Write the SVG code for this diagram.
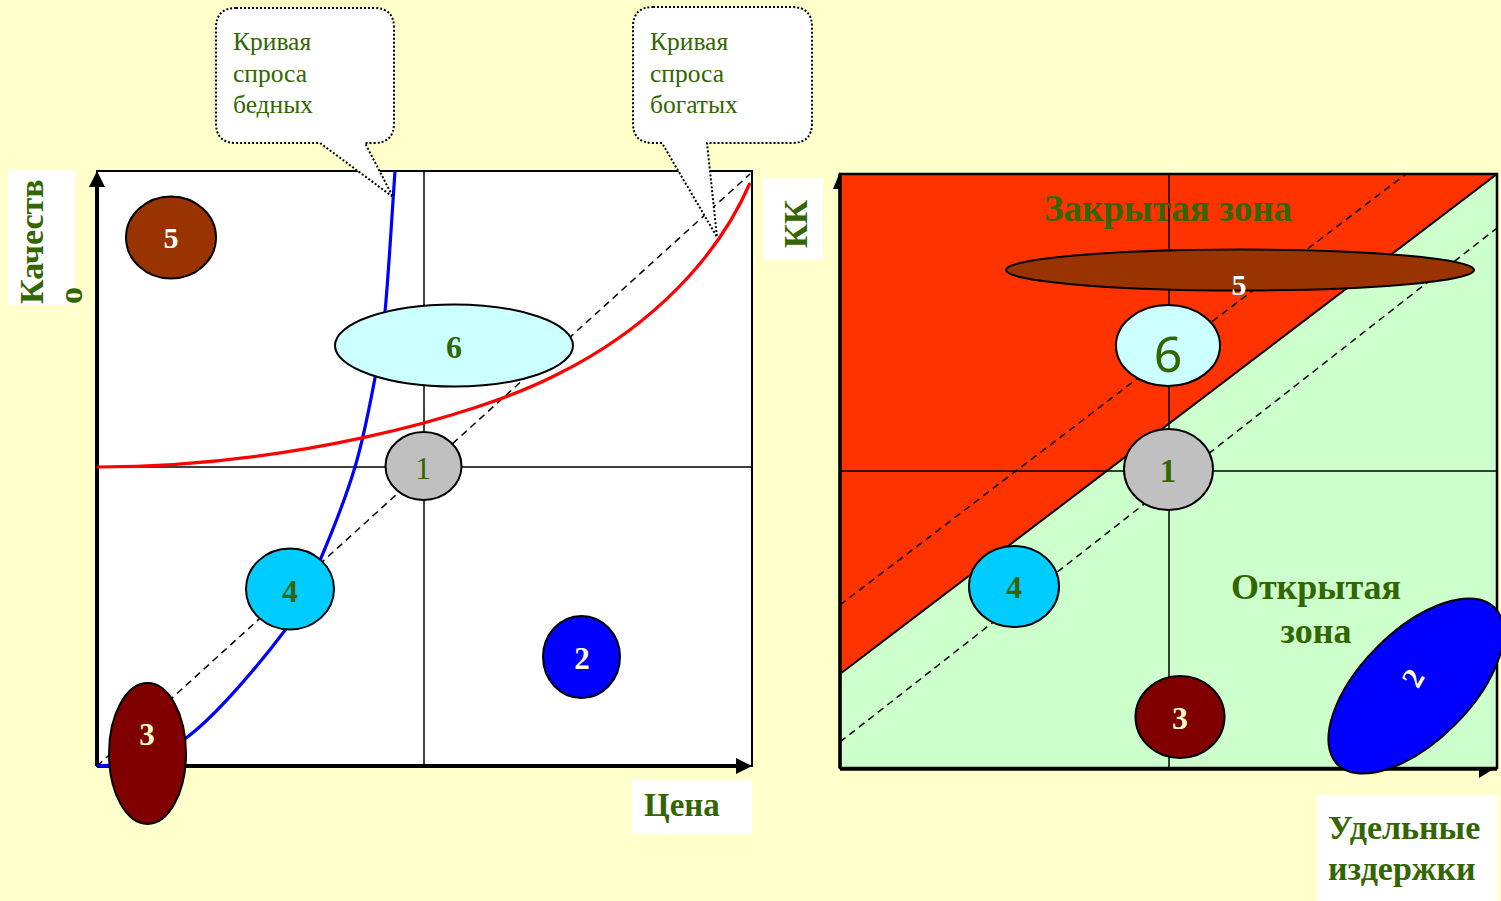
<svg xmlns="http://www.w3.org/2000/svg" width="1501" height="901" viewBox="0 0 1501 901">
<defs>
<style>
.t{font-family:"Liberation Serif","Times New Roman",serif;fill:#336600}
.b{font-weight:bold}
.c{text-anchor:middle}
.node{stroke:#000;stroke-width:2}
.mid{stroke:#000;stroke-width:1.5;fill:none}
.dash{stroke:#000;stroke-width:1.5;stroke-dasharray:7,5;fill:none}
.callout{fill:#fff;stroke:#000;stroke-width:2;stroke-dasharray:2,2}
</style>
</defs>
<rect x="0" y="0" width="1501" height="901" fill="#FFFFCC"/>

<!-- LEFT CHART -->
<g id="left-chart">
<rect x="97" y="171" width="655" height="595" fill="#fff" stroke="#000" stroke-width="2"/>
<line class="mid" x1="424" y1="171" x2="424" y2="766"/>
<line class="mid" x1="97" y1="467" x2="752" y2="467"/>
<line class="dash" x1="97" y1="766" x2="750" y2="174"/>
<line x1="97" y1="766" x2="97" y2="185" stroke="#000" stroke-width="4"/>
<polygon points="97,171 89,187 105,187" fill="#000"/>
<line x1="97" y1="766" x2="738" y2="766" stroke="#000" stroke-width="4"/>
<polygon points="752,766 736,758 736,774" fill="#000"/>
</g>

<g id="connectors">
<path id="curve-poor" d="M97,766 C130,766 160,752 186,738 C217.5,715 263.5,659 286,629 C308.5,599 309.5,585 321,558 C332.5,531 346,497 355,467 C364,437 370,404 375,378 C380,352 381.7,346 385,312 C388.3,278 391.7,219 395,171" fill="none" stroke="#0000FF" stroke-width="3.2"/>
<path id="curve-rich" d="M97,467 C280,467 470,420 560,373 C630,338 710,275 750,183" fill="none" stroke="#FF0000" stroke-width="3.2"/>
</g>

<g id="L5"><ellipse class="node" cx="171" cy="237.5" rx="45" ry="41" fill="#993300"/><text class="t b c" x="171" y="248" font-size="30" style="fill:#fff">5</text></g>
<g id="L6"><ellipse class="node" cx="454" cy="345.5" rx="119" ry="41" fill="#CCFFFF"/><text class="t b c" x="454" y="358" font-size="32">6</text></g>
<g id="L1"><ellipse class="node" cx="423.5" cy="466" rx="38" ry="34" fill="#C0C0C0"/><text class="t c" x="423" y="479" font-size="32">1</text></g>
<g id="L4"><ellipse class="node" cx="290" cy="589" rx="44" ry="40.5" fill="#00CCFF"/><text class="t b c" x="290" y="602" font-size="32">4</text></g>
<g id="L3"><ellipse class="node" cx="147.5" cy="753.5" rx="38.5" ry="70.5" fill="#800000"/><text class="t b c" x="147" y="745" font-size="31" style="fill:#FFFFCC">3</text></g>
<g id="L2"><ellipse class="node" cx="581.5" cy="657" rx="38.5" ry="41" fill="#0000FF"/><text class="t b c" x="582" y="669" font-size="31" style="fill:#FFFFCC">2</text></g>

<g id="callout-poor">
<path class="callout" d="M236,8 H374 Q394,8 394,28 V123 Q394,143 374,143 H365 L393,197 L320,143 H236 Q216,143 216,123 V28 Q216,8 236,8 Z"/>
<text class="t" font-size="25.5"><tspan x="233" y="50">Кривая</tspan><tspan x="233" y="82">спроса</tspan><tspan x="233" y="113">бедных</tspan></text>
</g>
<g id="callout-rich">
<path class="callout" d="M653,7 H792 Q812,7 812,27 V123 Q812,143 792,143 H707 L717,237 L662,143 H653 Q633,143 633,123 V27 Q633,7 653,7 Z"/>
<text class="t" font-size="25.5"><tspan x="650" y="50">Кривая</tspan><tspan x="650" y="82">спроса</tspan><tspan x="650" y="113">богатых</tspan></text>
</g>

<g id="label-quality">
<rect x="8" y="170" width="67" height="135" fill="#fff"/>
<text class="t b" font-size="34" transform="translate(43,304) rotate(-90)">Качеств</text>
<text class="t b" font-size="34" transform="translate(82,304) rotate(-90)">о</text>
</g>
<g id="label-price">
<rect x="632" y="780" width="120" height="54" fill="#fff"/>
<text class="t b" x="644" y="816" font-size="33">Цена</text>
</g>

<!-- RIGHT CHART -->
<g id="right-chart">
<polygon points="840,174 1497,174 840,674" fill="#FF3300"/>
<polygon points="1497,174 1497,768 840,768 840,674" fill="#CCFFCC"/>
<line x1="840" y1="674" x2="1497" y2="174" stroke="#000" stroke-width="2"/>
<line class="mid" x1="1169" y1="174" x2="1169" y2="768"/>
<line class="mid" x1="840" y1="471" x2="1497" y2="471"/>
<line class="dash" x1="840" y1="605" x2="1406" y2="174"/>
<line class="dash" x1="840" y1="742" x2="1497" y2="228"/>
<rect x="840" y="174" width="657" height="594" fill="none" stroke="#000" stroke-width="2.5"/>
<line x1="840" y1="768" x2="840" y2="174" stroke="#000" stroke-width="3.5"/>
<line x1="840" y1="769" x2="1497" y2="769" stroke="#000" stroke-width="3.5"/>
<polygon points="833,189 840,172 840,189" fill="#000"/>
<polygon points="1479,770 1492,770 1479,778" fill="#000"/>
<text class="t b c" x="1168" y="221" font-size="37">Закрытая зона</text>
<text class="t b c" font-size="36"><tspan x="1316" y="599">Открытая</tspan><tspan x="1316" y="643">зона</tspan></text>
</g>

<g id="R5"><ellipse class="node" cx="1240" cy="270" rx="234" ry="20.5" fill="#993300"/><text class="t b c" x="1239" y="295" font-size="30" style="fill:#fff">5</text></g>
<g id="R6"><ellipse class="node" cx="1168" cy="345.5" rx="52" ry="40.5" fill="#CCFFFF"/><text class="c" x="1168" y="372" font-size="50" font-family="'Noto Sans','DejaVu Sans',sans-serif" fill="#336600">6</text></g>
<g id="R1"><ellipse class="node" cx="1168.5" cy="469.5" rx="44.5" ry="40.5" fill="#C0C0C0"/><text class="t b c" x="1168" y="482" font-size="33">1</text></g>
<g id="R4"><ellipse class="node" cx="1014" cy="586.5" rx="45" ry="40.5" fill="#00CCFF"/><text class="t b c" x="1014" y="598" font-size="32">4</text></g>
<g id="R3"><ellipse class="node" cx="1180" cy="717" rx="44.5" ry="41" fill="#800000"/><text class="t b c" x="1180" y="729" font-size="32" style="fill:#FFFFCC">3</text></g>
<g id="R2"><ellipse class="node" cx="1416" cy="686" rx="111" ry="55" transform="rotate(-45 1416 686)" fill="#0000FF"/><text class="t b c" font-size="30" transform="translate(1413,678) rotate(-60)" y="10" style="fill:#FFFFCC">2</text></g>

<g id="label-kk">
<rect x="763" y="178" width="60" height="82" fill="#fff"/>
<text class="t b" font-size="33" transform="translate(807,248) rotate(-90)">КК</text>
</g>
<g id="label-costs">
<rect x="1317" y="795" width="180" height="106" fill="#fff"/>
<text class="t b" font-size="34"><tspan x="1328" y="839">Удельные</tspan><tspan x="1328" y="880">издержки</tspan></text>
</g>
</svg>
